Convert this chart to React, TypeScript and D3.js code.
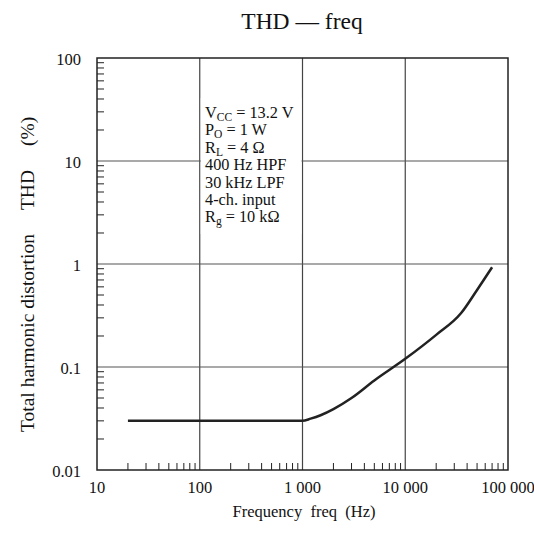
import React from "react";
import * as d3 from "d3";

const freqs = [20, 100, 500, 1000, 1200, 1500, 2000, 3000, 5000, 10000, 20000, 35000, 50000, 70000];
const thd = [0.03, 0.03, 0.03, 0.03, 0.0315, 0.034, 0.039, 0.05, 0.074, 0.12, 0.205, 0.334, 0.56, 0.93];
const xTicks = [10, 100, 1000, 10000, 100000];
const xTickLabels = ["10", "100", "1 000", "10 000", "100 000"];
const yTicks = [0.01, 0.1, 1, 10, 100];
const yTickLabels = ["0.01", "0.1", "1", "10", "100"];
const notes = [
  ["V", "CC", " = 13.2 V"],
  ["P", "O", " = 1 W"],
  ["R", "L", " = 4 Ω"],
  ["400 Hz HPF", "", ""],
  ["30 kHz LPF", "", ""],
  ["4-ch. input", "", ""],
  ["R", "g", " = 10 kΩ"],
];

export default function App() {
  const W = 534, H = 537;
  const L = 97, R = 508, T = 58, B = 470;
  const x = d3.scaleLog().domain([10, 100000]).range([L, R]);
  const y = d3.scaleLog().domain([0.01, 100]).range([B, T]);
  const line = d3.line<number>().x((_, i) => x(freqs[i])).y((d) => y(d)).curve(d3.curveMonotoneX);
  const minorX: number[] = [];
  for (let d = 10; d < 100000; d *= 10) for (let k = 2; k <= 9; k++) minorX.push(d * k);
  const minorY: number[] = [];
  for (let d = 0.01; d < 99; d *= 10) for (let k = 2; k <= 9; k++) minorY.push(d * k);
  const font = "'Liberation Serif', 'Times New Roman', serif";
  const boxX0 = x(100), boxX1 = x(1000);
  return (
    <svg width={W} height={H} style={{ position: "absolute", left: 0, top: 0, fontFamily: font }}>
      <rect x={0} y={0} width={W} height={H} fill="white" />
      {[100, 1000, 10000].map((v) => (
        <line key={"gx" + v} x1={x(v)} x2={x(v)} y1={T} y2={B} stroke="#444" strokeWidth={1.2} />
      ))}
      {[0.1, 1, 10].map((v) => (
        <line key={"gy" + v} x1={L} x2={R} y1={y(v)} y2={y(v)} stroke="#555" strokeWidth={1.2} />
      ))}
      <rect x={boxX0 + 1} y={98} width={boxX1 - boxX0 - 2} height={136} fill="white" />
      {minorX.map((v, i) => (
        <line key={"mx" + i} x1={x(v)} x2={x(v)} y1={B} y2={B - 7} stroke="#222" strokeWidth={1} />
      ))}
      {minorY.map((v, i) => (
        <line key={"my" + i} x1={L} x2={L + 7} y1={y(v)} y2={y(v)} stroke="#222" strokeWidth={1} />
      ))}
      <rect x={L} y={T} width={R - L} height={B - T} fill="none" stroke="#222" strokeWidth={1.5} />
      <path d={line(thd) || ""} fill="none" stroke="#222" strokeWidth={2.5} strokeLinejoin="round" />
      {xTicks.map((v, i) => (
        <text key={"xt" + i} x={x(v)} y={493} textAnchor="middle" fontSize={16.5} fill="#111">
          {xTickLabels[i]}
        </text>
      ))}
      {yTicks.map((v, i) => (
        <text key={"yt" + i} x={81} y={y(v) + 7} textAnchor="end" fontSize={16.5} fill="#111">
          {yTickLabels[i]}
        </text>
      ))}
      {notes.map((n, i) => (
        <text key={"n" + i} x={205} y={118 + i * 17.4} fontSize={16.3} fill="#111">
          {n[0]}
          {n[1] ? <tspan fontSize={11.5} dy={3}>{n[1]}</tspan> : null}
          {n[2] ? <tspan dy={n[1] ? -3 : 0}>{n[2]}</tspan> : null}
        </text>
      ))}
      <text x={302} y={29} textAnchor="middle" fontSize={23.5} fill="#111" style={{ whiteSpace: "pre" }}>
        {"THD — freq"}
      </text>
      <text x={304} y={517} textAnchor="middle" fontSize={16.5} fill="#111" style={{ whiteSpace: "pre" }}>
        {"Frequency  freq  (Hz)"}
      </text>
      <text
        transform={`translate(34,432) rotate(-90)`}
        textAnchor="start"
        fontSize={19.5}
        fill="#111"
      >
        <tspan>Total harmonic distortion</tspan>
        <tspan dx={24}>THD</tspan>
        <tspan dx={24}>(%)</tspan>
      </text>
    </svg>
  );
}
